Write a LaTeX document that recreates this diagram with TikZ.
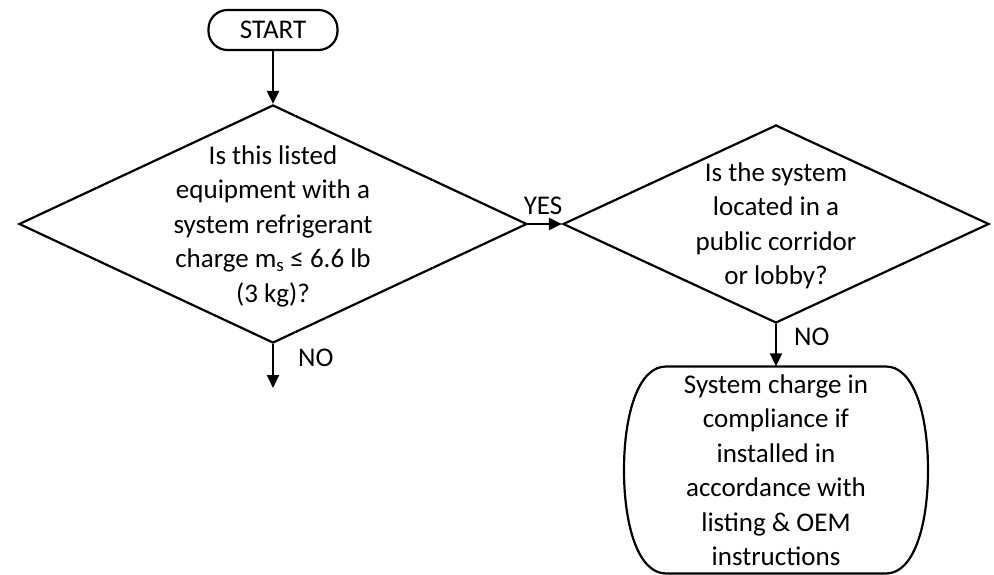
\documentclass[tikz,border=0pt]{standalone}
\usepackage{fontspec}
\setmainfont{Carlito}
\usetikzlibrary{shapes.geometric,arrows.meta}
\begin{document}
\begin{tikzpicture}[x=1pt,y=-1pt,
  every node/.style={font=\fontsize{27}{34.5}\selectfont},
  line/.style={line width=2.2pt},
  arr/.style={line width=2.2pt,-{Triangle[length=13pt,width=12pt]}},
  dia/.style={diamond,draw,line width=2.2pt,inner sep=0pt,aspect=2.14},
  txt/.style={align=center,inner sep=0pt},
  lbl/.style={inner sep=0pt}]
\path[use as bounding box] (0,0) rectangle (994,575);
% start
\node[draw,line width=2.2pt,rounded corners=19pt,minimum width=129pt,minimum height=40pt,inner sep=0pt] (start) at (273,30) {START};
% diamond 1
\node[dia,minimum width=508pt,minimum height=238pt] (d1) at (273,224) {};
\node[txt] (t1) at (273,226) {Is this listed\\equipment with a\\system refrigerant\\charge m\textsubscript{s} ≤ 6.6 lb\\(3 kg)?};
% diamond 2
\node[dia,minimum width=426pt,minimum height=198pt] (d2) at (776,224) {};
\node[txt] (t2) at (776,226) {Is the system\\located in a\\public corridor\\or lobby?};
% result
\node[txt,minimum width=304pt,minimum height=207pt] (res) at (776,470) {System charge in\\compliance if\\installed in\\accordance with\\listing \& OEM\\instructions};
\begin{scope}[shift={(res.center)}]
\draw[line] (-110,-103.5) -- (110,-103.5)
  .. controls (138,-103.5) and (152,-55) .. (152,0)
  .. controls (152,55) and (138,103.5) .. (110,103.5)
  -- (-110,103.5)
  .. controls (-138,103.5) and (-152,55) .. (-152,0)
  .. controls (-152,-55) and (-138,-103.5) .. (-110,-103.5) -- cycle;
\end{scope}
\coordinate (noend) at (273,388);
% connectors
\draw[arr] (start.south) -- (d1.north);
\draw[arr] (d1.east) -- (d2.west);
\draw[arr] (d1.south) -- (noend);
\draw[arr] (d2.south) -- (res.north);
% labels
\node[lbl] (yes) at (543,206) {YES};
\node[lbl,anchor=west] (no1) at (298,358) {NO};
\node[lbl,anchor=west] (no2) at (794,337) {NO};
\end{tikzpicture}
\end{document}
